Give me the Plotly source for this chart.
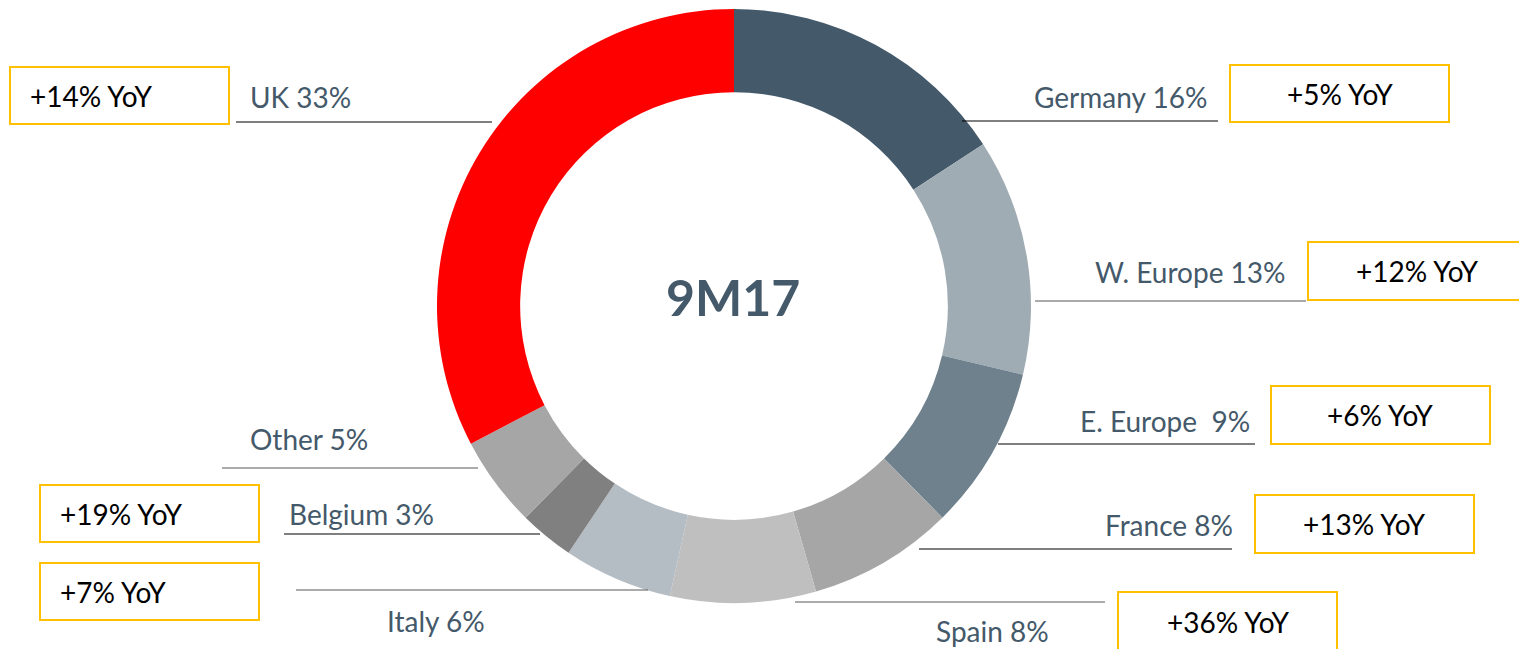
import plotly.graph_objects as go

W, H = 1527, 649
OFF = 8  # page body margin of the html output

regions = ["Germany", "W. Europe", "E. Europe", "France", "Spain", "Italy", "Belgium", "Other", "UK"]
shares = [16, 13, 9, 8, 8, 6, 3, 5, 33]
slice_colors = ["#44596a", "#a0acb4", "#6f818d", "#a6a6a6", "#bfbfbf", "#b4bcc4", "#808080", "#a6a6a6", "#ff0000"]
labels_txt = ["Germany 16%", "W. Europe 13%", "E. Europe  9%", "France 8%", "Spain 8%",
              "Italy 6%", "Belgium 3%", "Other 5%", "UK 33%"]
yoy = ["+5% YoY", "+12% YoY", "+6% YoY", "+13% YoY", "+36% YoY", "+7% YoY", "+19% YoY", None, "+14% YoY"]

LABEL_COLOR = "#44596a"
FONT = "Lato, 'Open Sans', sans-serif"

# pixel layout: label (x, y, anchor), leader line (x0, x1, y), box (x0, x1, y0, y1, text x, text anchor)
label_pos = {
    "Germany": (1209, 97, "right"), "W. Europe": (1288, 272, "right"), "E. Europe": (1252, 421, "right"),
    "France": (1235, 525, "right"), "Spain": (934, 631, "left"), "Italy": (385, 621, "left"),
    "Belgium": (287, 514, "left"), "Other": (248, 439, "left"), "UK": (248, 97, "left"),
}
line_pos = {
    "Germany": (962, 1218, 121, "#000000"), "W. Europe": (1035, 1306, 301, "#595959"),
    "E. Europe": (998, 1255, 444, "#000000"), "France": (919, 1232, 549, "#000000"),
    "Spain": (795, 1105, 602, "#595959"), "Italy": (296, 648, 590, "#595959"),
    "Belgium": (284, 540, 534, "#000000"), "Other": (222, 478, 468, "#595959"),
    "UK": (236, 492, 122, "#000000"),
}
box_pos = {
    "Germany": (1230, 1449, 65, 122, 1340, "center"), "W. Europe": (1308, 1525, 242, 300, 1417, "center"),
    "E. Europe": (1271, 1490, 386, 444, 1380, "center"), "France": (1255, 1474, 495, 553, 1364, "center"),
    "Spain": (1118, 1337, 592, 670, 1228, "center"), "Italy": (40, 259, 563, 620, 58, "left"),
    "Belgium": (40, 259, 485, 542, 58, "left"), "UK": (10, 229, 67, 124, 28, "left"),
}


def px(x):
    return (x - OFF) / W


def py(y):
    return 1 - (y - OFF) / H


cx, cy, r = 734, 306, 297

fig = go.Figure(go.Pie(
    labels=regions, values=shares, sort=False, direction="clockwise", rotation=0,
    hole=0.72, marker=dict(colors=slice_colors, line=dict(width=0)),
    textinfo="none", hoverinfo="label+percent", showlegend=False,
    domain=dict(x=[px(cx - r), px(cx + r)], y=[py(cy + r), py(cy - r)]),
))

shapes = []
annotations = []
for i, reg in enumerate(regions):
    lx, ly, anc = label_pos[reg]
    annotations.append(dict(x=px(lx), y=py(ly), xref="paper", yref="paper", text=labels_txt[i],
                            showarrow=False, xanchor=anc, yanchor="middle",
                            font=dict(family=FONT, size=28, color=LABEL_COLOR)))
    x0, x1, yl, lc = line_pos[reg]
    shapes.append(dict(type="line", xref="paper", yref="paper", x0=px(x0), x1=px(x1), y0=py(yl), y1=py(yl),
                       line=dict(color=lc, width=1.2)))
    if yoy[i] is not None:
        bx0, bx1, by0, by1, tx, tanc = box_pos[reg]
        shapes.append(dict(type="rect", xref="paper", yref="paper", x0=px(bx0), x1=px(bx1),
                           y0=py(by1), y1=py(by0), line=dict(color="#ffc000", width=2), fillcolor="white"))
        annotations.append(dict(x=px(tx), y=py(min((by0 + by1) / 2, 622)), xref="paper", yref="paper",
                                text=yoy[i], showarrow=False, xanchor=tanc, yanchor="middle",
                                font=dict(family=FONT, size=28, color="#000000")))

annotations.append(dict(x=px(733), y=py(297), xref="paper", yref="paper", text="<b>9M17</b>",
                        showarrow=False, xanchor="center", yanchor="middle",
                        font=dict(family=FONT, size=50, color=LABEL_COLOR)))

fig.update_layout(
    width=W, height=H, margin=dict(l=0, r=0, t=0, b=0),
    paper_bgcolor="white", plot_bgcolor="white",
    shapes=shapes, annotations=annotations,
)

fig.write_html("out.html")
